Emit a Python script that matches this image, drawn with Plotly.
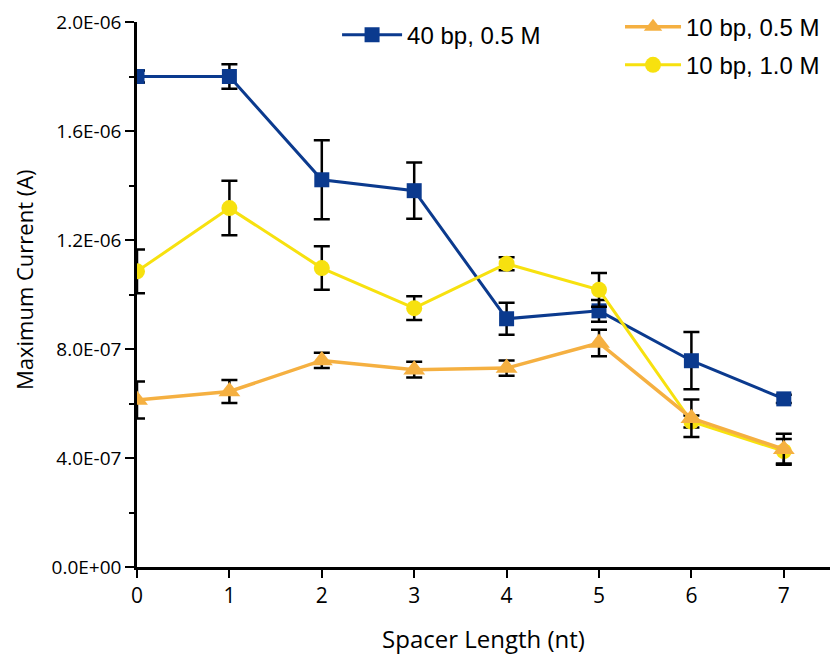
import plotly.graph_objects as go

spacer = [0, 1, 2, 3, 4, 5, 6, 7]

s40_05 = [1.80e-6, 1.80e-6, 1.421e-6, 1.381e-6, 0.911e-6, 0.940e-6, 0.757e-6, 0.617e-6]
s40_05_err = [0.022e-6, 0.045e-6, 0.145e-6, 0.103e-6, 0.059e-6, 0.040e-6, 0.105e-6, 0.015e-6]

s10_05 = [0.613e-6, 0.644e-6, 0.758e-6, 0.724e-6, 0.730e-6, 0.822e-6, 0.546e-6, 0.432e-6]
s10_05_err = [0.068e-6, 0.042e-6, 0.028e-6, 0.029e-6, 0.028e-6, 0.049e-6, 0.069e-6, 0.057e-6]

s10_10 = [1.085e-6, 1.317e-6, 1.097e-6, 0.950e-6, 1.113e-6, 1.017e-6, 0.534e-6, 0.425e-6]
s10_10_err = [0.080e-6, 0.100e-6, 0.080e-6, 0.044e-6, 0.024e-6, 0.062e-6, 0.022e-6, 0.045e-6]

names = ["40 bp, 0.5 M", "10 bp, 0.5 M", "10 bp, 1.0 M"]

y_tickvals = [0, 0.4e-6, 0.8e-6, 1.2e-6, 1.6e-6, 2.0e-6]
y_ticktext = ["0.0E+00", "4.0E-07", "8.0E-07", "1.2E-06", "1.6E-06", "2.0E-06"]

BLUE = "#0b3a8e"
ORANGE = "#f5b041"
YELLOW = "#f7e10f"

def err(vals):
    return dict(type="data", array=vals, visible=True, color="black", thickness=2.5, width=8)

fig = go.Figure()
fig.add_trace(go.Scatter(x=spacer, y=s40_05, name=names[0], mode="lines+markers",
                         line=dict(color=BLUE, width=3),
                         marker=dict(symbol="square", size=15, color=BLUE),
                         error_y=err(s40_05_err), legend="legend"))
fig.add_trace(go.Scatter(x=spacer, y=s10_10, name=names[2], mode="lines+markers",
                         line=dict(color=YELLOW, width=3),
                         marker=dict(symbol="circle", size=16, color=YELLOW),
                         error_y=err(s10_10_err), legend="legend2", legendrank=2,
                         legendgroup="g2"))
fig.add_trace(go.Scatter(x=spacer, y=s10_05, name=names[1], mode="lines+markers",
                         line=dict(color=ORANGE, width=3.5),
                         marker=dict(symbol="triangle-up", size=19, color=ORANGE),
                         error_y=err(s10_05_err), legend="legend2", legendrank=1,
                         legendgroup="g1"))

legfont = dict(family="Liberation Sans", size=24, color="black")

fig.update_layout(
    width=835, height=656,
    margin=dict(l=137, r=5, t=22, b=89),
    paper_bgcolor="white", plot_bgcolor="white",
    showlegend=True,
    legend=dict(x=0.2887, y=1.017, xanchor="left", yanchor="top",
                font=legfont, bgcolor="rgba(0,0,0,0)", itemwidth=60),
    legend2=dict(x=0.697, y=1.032, xanchor="left", yanchor="top",
                 font=legfont, bgcolor="rgba(0,0,0,0)", itemwidth=56, tracegroupgap=4),
    xaxis=dict(range=[0, 7.5], tickmode="array", tickvals=spacer,
               ticktext=[str(v) for v in spacer],
               showgrid=False, zeroline=False, showline=True, linecolor="black", linewidth=2.5,
               ticks="outside", ticklen=8, tickwidth=2, tickcolor="black",
               tickfont=dict(family="Open Sans", size=21, color="black"),
               title=dict(text="Spacer Length (nt)", font=dict(family="Open Sans", size=24, color="black"),
                          standoff=24)),
    yaxis=dict(range=[0, 2.0e-6], tickmode="array", tickvals=y_tickvals, ticktext=y_ticktext,
               showgrid=False, zeroline=False, showline=True, linecolor="black", linewidth=2.5,
               ticks="outside", ticklen=9, tickwidth=2, tickcolor="black",
               tickfont=dict(family="Open Sans", size=19, color="black"),
               minor=dict(dtick=0.2e-6, tick0=0, ticks="outside", ticklen=5, tickwidth=2,
                          tickcolor="black", showgrid=False)),
    annotations=[dict(text="Maximum Current (A)", textangle=-90, xref="paper", yref="paper",
                      x=-0.163, y=0.5266, xanchor="center", yanchor="middle", showarrow=False,
                      font=dict(family="Open Sans", size=22, color="black"))],
)

fig.write_html("out.html")
